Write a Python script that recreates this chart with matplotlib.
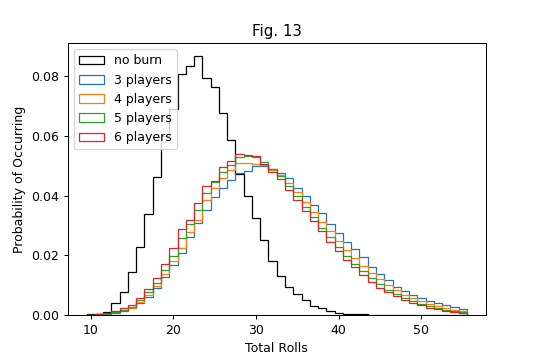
import matplotlib
matplotlib.use('Agg')
import matplotlib.pyplot as plt
import numpy as np

# total rolls, one bin per integer value
rolls = np.arange(10, 56)
edges = np.arange(9.5, 56.5, 1.0)

no_burn = [0.0002, 0.0005, 0.0011, 0.0039, 0.0078, 0.0145, 0.0229, 0.0337, 0.0463, 0.0600,
           0.0690, 0.0806, 0.0834, 0.0867, 0.0795, 0.0762, 0.0678, 0.0586, 0.0472, 0.0398,
           0.0324, 0.0250, 0.0182, 0.0132, 0.0095, 0.0071, 0.0049, 0.0029, 0.0022, 0.0012,
           0.0008, 0.0005, 0.0003, 0.0002, 0.0001, 0.0001, 0.00005, 0.00003, 0.00002, 0.00001,
           0.0, 0.0, 0.0, 0.0, 0.0, 0.0]

p3 = [0.0001, 0.0002, 0.0004, 0.0008, 0.0014, 0.0022, 0.0041, 0.0061, 0.0089, 0.0128,
      0.0167, 0.0207, 0.0260, 0.0309, 0.0351, 0.0396, 0.0427, 0.0452, 0.0476, 0.0482,
      0.0500, 0.0498, 0.0490, 0.0475, 0.0460, 0.0425, 0.0400, 0.0370, 0.0340, 0.0305,
      0.0275, 0.0245, 0.0220, 0.0193, 0.0160, 0.0137, 0.0117, 0.0095, 0.0080, 0.0067,
      0.0056, 0.0047, 0.0039, 0.0032, 0.0027, 0.0021]

p4 = [0.0001, 0.0002, 0.0005, 0.0009, 0.0016, 0.0025, 0.0045, 0.0068, 0.0098, 0.0138,
      0.0180, 0.0225, 0.0279, 0.0318, 0.0385, 0.0424, 0.0458, 0.0485, 0.0510, 0.0508,
      0.0505, 0.0503, 0.0485, 0.0468, 0.0442, 0.0412, 0.0380, 0.0345, 0.0312, 0.0280,
      0.0248, 0.0218, 0.0190, 0.0165, 0.0141, 0.0120, 0.0100, 0.0083, 0.0068, 0.0056,
      0.0046, 0.0037, 0.0030, 0.0023, 0.0018, 0.0013]

p5 = [0.0001, 0.0002, 0.0005, 0.0011, 0.0018, 0.0028, 0.0049, 0.0076, 0.0108, 0.0150,
      0.0198, 0.0257, 0.0305, 0.0351, 0.0407, 0.0446, 0.0480, 0.0502, 0.0530, 0.0532,
      0.0528, 0.0512, 0.0490, 0.0465, 0.0433, 0.0398, 0.0362, 0.0328, 0.0293, 0.0260,
      0.0228, 0.0198, 0.0172, 0.0147, 0.0123, 0.0103, 0.0085, 0.0070, 0.0057, 0.0046,
      0.0037, 0.0029, 0.0023, 0.0017, 0.0013, 0.0009]

p6 = [0.0001, 0.0003, 0.0007, 0.0014, 0.0022, 0.0033, 0.0057, 0.0087, 0.0123, 0.0170,
      0.0223, 0.0287, 0.0318, 0.0376, 0.0432, 0.0450, 0.0496, 0.0515, 0.0539, 0.0535,
      0.0533, 0.0505, 0.0480, 0.0455, 0.0420, 0.0385, 0.0350, 0.0315, 0.0280, 0.0245,
      0.0215, 0.0185, 0.0160, 0.0135, 0.0112, 0.0092, 0.0076, 0.0062, 0.0050, 0.0040,
      0.0032, 0.0025, 0.0020, 0.0015, 0.0011, 0.0007]

fig, ax = plt.subplots(figsize=(6, 4), dpi=90)
fig.subplots_adjust(left=0.125, right=0.9, bottom=0.125, top=0.88)
ax.hist(rolls, bins=edges, weights=no_burn, histtype='step', color='k', label='no burn')
ax.hist(rolls, bins=edges, weights=p3, histtype='step', color='C0', label='3 players')
ax.hist(rolls, bins=edges, weights=p4, histtype='step', color='C1', label='4 players')
ax.hist(rolls, bins=edges, weights=p5, histtype='step', color='C2', label='5 players')
ax.hist(rolls, bins=edges, weights=p6, histtype='step', color='C3', label='6 players')
ax.set_title('Fig. 13')
ax.set_xlabel('Total Rolls')
ax.set_ylabel('Probability of Occurring')
ax.legend(loc='upper left')
plt.savefig('out.png')
